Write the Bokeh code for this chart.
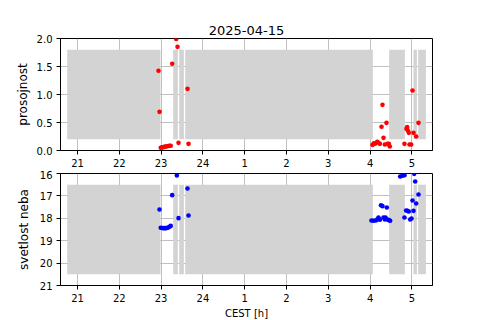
from bokeh.plotting import figure
from bokeh.layouts import column
from bokeh.models import Range1d, FixedTicker, PrintfTickFormatter
from bokeh.embed import file_html
from bokeh.resources import INLINE

# ---- data ----
hour_ticks = [21, 22, 23, 24, 25, 26, 27, 28, 29]
hour_labels = ["21", "22", "23", "24", "1", "2", "3", "4", "5"]

mask_start = [20.753, 23.289, 23.433, 23.576, 28.456, 29.038, 29.150]
mask_end = [22.985, 23.400, 23.545, 28.066, 28.832, 29.120, 29.335]

t_pros = [22.938, 22.962,
          22.99, 23.02, 23.05, 23.08, 23.11, 23.14, 23.17, 23.20, 23.23,
          23.265, 23.361, 23.393, 23.417, 23.632, 23.656,
          28.057, 28.09, 28.12, 28.17, 28.20, 28.235, 28.273, 28.297, 28.321,
          28.353, 28.392, 28.416, 28.448, 28.472,
          28.822, 28.87, 28.887, 28.903, 28.927, 28.943, 28.983, 29.015,
          29.039, 29.103, 29.158]
pros = [1.423, 0.690,
        0.05, 0.055, 0.06, 0.065, 0.07, 0.075, 0.08, 0.085, 0.085,
        1.548, 1.99, 1.851, 0.137, 1.101, 0.119,
        0.101, 0.13, 0.12, 0.155, 0.137, 0.119, 0.423, 0.815, 0.226,
        0.107, 0.494, 0.119, 0.119, 0.071,
        0.119, 0.387, 0.417, 0.357, 0.315, 0.107, 0.107, 1.071,
        0.315, 0.25, 0.494]

t_svet = [22.962,
          22.99, 23.02, 23.05, 23.08, 23.11, 23.14, 23.17, 23.20, 23.23,
          23.265, 23.377, 23.417, 23.632, 23.656,
          28.033, 28.081, 28.137, 28.17, 28.20, 28.235, 28.26, 28.297, 28.321,
          28.353, 28.37, 28.40, 28.416, 28.448, 28.48,
          28.72, 28.775, 28.822, 28.822, 28.862, 28.895, 28.927, 28.959,
          28.991, 29.015, 29.039, 29.055, 29.079, 29.103, 29.158]
svet = [17.607,
        18.42, 18.43, 18.44, 18.44, 18.44, 18.43, 18.41, 18.38, 18.34,
        16.967, 16.09, 17.994, 16.67, 17.875,
        18.098, 18.113, 18.098, 18.054, 17.964, 18.068, 17.414, 17.458, 17.964,
        18.054, 17.964, 17.518, 18.054, 18.083, 18.113,
        16.134, 16.104, 16.074, 17.964, 17.652, 17.667, 17.696, 18.054,
        18.009, 17.205, 17.667, 16.015, 16.357, 17.339, 16.938]

x_min, x_max = 20.593, 29.493
pros_range = (0.0, 2.0)
svet_range = (21.0, 16.0)
pros_ticks = [0.0, 0.5, 1.0, 1.5, 2.0]
svet_ticks = [16, 17, 18, 19, 20, 21]

FONT = "DejaVu Sans"


def make_fig(yr, yticks, ylabel, top_border, bottom_border, label_standoff):
    p = figure(frame_width=372, frame_height=112,
               x_range=Range1d(x_min, x_max), y_range=Range1d(*yr),
               output_backend="svg", toolbar_location=None,
               min_border_left=60, min_border_right=48,
               min_border_top=top_border, min_border_bottom=bottom_border)
    p.outline_line_color = "black"
    p.outline_line_alpha = 1
    p.outline_line_width = 1
    for g in (p.xgrid, p.ygrid):
        g.grid_line_color = "#b0b0b0"
        g.grid_line_width = 0.8
    p.xaxis.ticker = FixedTicker(ticks=hour_ticks)
    p.xaxis.major_label_overrides = dict(zip(hour_ticks, hour_labels))
    p.yaxis.ticker = FixedTicker(ticks=yticks)
    p.yaxis.axis_label = ylabel
    p.yaxis.axis_label_standoff = label_standoff
    for ax in (p.xaxis, p.yaxis):
        ax.axis_line_color = "black"
        ax.major_tick_line_color = "black"
        ax.major_tick_out = 4
        ax.major_tick_in = 0
        ax.minor_tick_line_color = None
        ax.major_label_text_font = FONT
        ax.major_label_text_font_size = "10px"
        ax.major_label_text_color = "black"
        ax.major_label_standoff = 4
        ax.axis_label_text_font = FONT
        ax.axis_label_text_font_style = "normal"
        ax.axis_label_text_color = "black"
    p.yaxis.axis_label_text_font_size = "12px"
    y0, y1 = min(yr), max(yr)
    span = y1 - y0
    p.quad(left=mask_start, right=mask_end,
           bottom=y0 + 0.1 * span, top=y0 + 0.9 * span,
           fill_color="#d3d3d3", line_color=None)
    return p


top = make_fig(pros_range, pros_ticks, "prosojnost", 38, 20, 4)
top.yaxis.formatter = PrintfTickFormatter(format="%.1f")
top.title.text = "2025-04-15"
top.title.align = "center"
top.title.text_font = FONT
top.title.text_font_size = "13px"
top.title.text_font_style = "normal"
top.title.text_color = "black"
top.title.standoff = 8
top.scatter(t_pros, pros, size=4.6, fill_color="red", line_color=None)

bot = make_fig(svet_range, svet_ticks, "svetlost neba", 3, 35, 6)
bot.xaxis.axis_label = "CEST [h]"
bot.xaxis.axis_label_text_font_size = "10px"
bot.xaxis.axis_label_standoff = 3
bot.scatter(t_svet, svet, size=4.6, fill_color="blue", line_color=None)

layout = column(top, bot, spacing=0)
open("out.html", "w").write(file_html(layout, INLINE))
